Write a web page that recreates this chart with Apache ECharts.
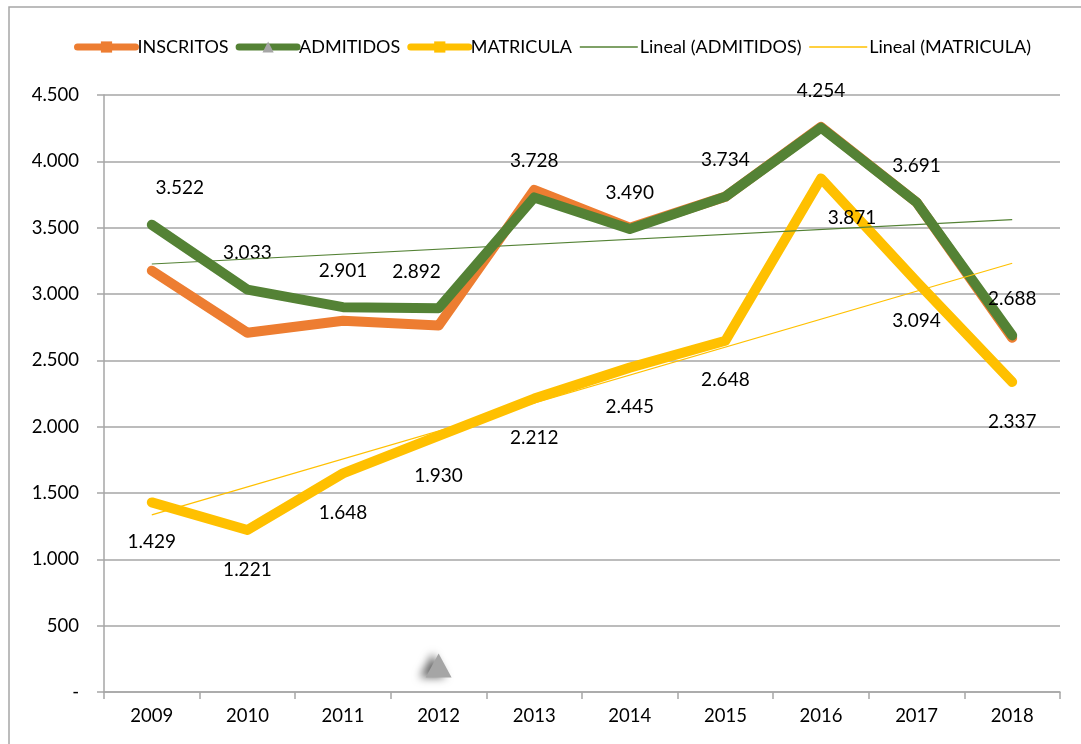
<!DOCTYPE html>
<html>
<head>
<meta charset="utf-8">
<script src="https://cdn.jsdelivr.net/npm/echarts@6/dist/echarts.min.js"></script>
<style>
  html, body { margin: 0; padding: 0; background: #fff; }
  #chart { width: 1081px; height: 744px; }
</style>
</head>
<body>
<div id="chart"></div>
<script>
var years = ['2009', '2010', '2011', '2012', '2013', '2014', '2015', '2016', '2017', '2018'];
var inscritos = [3176, 2708, 2799, 2762, 3785, 3500, 3734, 4260, 3691, 2670];
var admitidos = [3522, 3033, 2901, 2892, 3728, 3490, 3734, 4254, 3691, 2688];
var matricula = [1429, 1221, 1648, 1930, 2212, 2445, 2648, 3871, 3094, 2337];
// linear trend, read at first and last year
var trendAdmitidos = [3226, null, null, null, null, null, null, null, null, 3561];
var trendMatricula = [1335, null, null, null, null, null, null, null, null, 3232];

var fontFam = 'Lato, "Open Sans", sans-serif';

function fmt(v) {
    if (v === 0) return '-';
    return String(v).replace(/\B(?=(\d{3})+(?!\d))/g, '.');
}

// some labels sit off the point in the reference
var admLabelOffset = { 0: [28, 0], 3: [-22, 0] };
var matLabelOffset = { 7: [31, 0] };

function withOffsets(values, offsets) {
    return values.map(function (v, i) {
        if (offsets[i]) return { value: v, label: { offset: offsets[i] } };
        return v;
    });
}

var chart = echarts.init(document.getElementById('chart'));
var option = {
    animation: false,
    textStyle: { fontFamily: fontFam },
    graphic: [{
        type: 'rect',
        shape: { x: 9, y: 7, width: 1200, height: 900 },
        style: { fill: 'none', stroke: '#a6a6a6', lineWidth: 1.5 },
        silent: true
    }],
    legend: {
        left: 69,
        top: 33,
        itemWidth: 58,
        itemHeight: 14,
        itemGap: 7,
        textStyle: { fontSize: 18, color: '#000', fontFamily: fontFam, padding: [0, 0, 0, -3] },
        data: [
            { name: 'INSCRITOS', itemStyle: { color: '#ED7D31' }, lineStyle: { width: 7, cap: 'round' } },
            { name: 'ADMITIDOS', itemStyle: { color: '#A5A5A5' }, lineStyle: { width: 7, cap: 'round' } },
            { name: 'MATRICULA', itemStyle: { color: '#FFC000' }, lineStyle: { width: 7, cap: 'round' } },
            { name: 'Lineal (ADMITIDOS)', itemStyle: { opacity: 0 }, lineStyle: { width: 1.5 } },
            { name: 'Lineal (MATRICULA)', itemStyle: { opacity: 0 }, lineStyle: { width: 1.5 } }
        ]
    },
    grid: { left: 104, right: 21, top: 95, bottom: 52 },
    xAxis: {
        type: 'category',
        data: years,
        boundaryGap: true,
        axisLine: { lineStyle: { color: '#a6a6a6', width: 1.5 } },
        axisTick: { show: true, length: 7, lineStyle: { color: '#a6a6a6', width: 1.5 } },
        axisLabel: { color: '#000', fontSize: 18.5, margin: 15, fontFamily: fontFam }
    },
    yAxis: {
        type: 'value',
        min: 0,
        max: 4500,
        interval: 500,
        axisLine: { show: true, lineStyle: { color: '#a6a6a6', width: 1.5 } },
        axisTick: { show: true, length: 7, lineStyle: { color: '#a6a6a6', width: 1.5 } },
        axisLabel: { color: '#000', fontSize: 18.5, margin: 25, fontFamily: fontFam, formatter: fmt },
        splitLine: { lineStyle: { color: '#a6a6a6', width: 1.5 } }
    },
    series: [
        {
            name: 'INSCRITOS',
            type: 'line',
            data: inscritos,
            symbol: 'rect',
            symbolSize: 0,
            lineStyle: { color: '#ED7D31', width: 10, cap: 'round', join: 'round' },
            itemStyle: { color: '#ED7D31' },
            z: 2
        },
        {
            name: 'ADMITIDOS',
            type: 'line',
            data: withOffsets(admitidos, admLabelOffset),
            symbol: 'triangle',
            symbolSize: 0,
            lineStyle: { color: '#548235', width: 10, cap: 'round', join: 'round' },
            itemStyle: { color: '#548235' },
            label: {
                show: true,
                position: 'top',
                distance: 27,
                color: '#000',
                fontSize: 19,
                fontFamily: fontFam,
                formatter: function (p) { return fmt(p.value); }
            },
            markPoint: {
                symbol: 'triangle',
                symbolSize: [26, 24],
                silent: true,
                label: { show: false },
                itemStyle: { color: '#A5A5A5', shadowColor: 'rgba(0,0,0,0.6)', shadowBlur: 8, shadowOffsetX: -6 },
                data: [{ coord: ['2012', 200] }]
            },
            z: 3
        },
        {
            name: 'MATRICULA',
            type: 'line',
            data: withOffsets(matricula, matLabelOffset),
            symbol: 'rect',
            symbolSize: 0,
            lineStyle: { color: '#FFC000', width: 10, cap: 'round', join: 'round' },
            itemStyle: { color: '#FFC000' },
            label: {
                show: true,
                position: 'bottom',
                distance: 30,
                color: '#000',
                fontSize: 19,
                fontFamily: fontFam,
                formatter: function (p) { return fmt(p.value); }
            },
            z: 4
        },
        {
            name: 'Lineal (ADMITIDOS)',
            type: 'line',
            data: trendAdmitidos,
            connectNulls: true,
            symbol: 'none',
            lineStyle: { color: '#548235', width: 1.2 },
            itemStyle: { color: '#548235', opacity: 0 },
            z: 5
        },
        {
            name: 'Lineal (MATRICULA)',
            type: 'line',
            data: trendMatricula,
            connectNulls: true,
            symbol: 'none',
            lineStyle: { color: '#FFC000', width: 1.2 },
            itemStyle: { color: '#FFC000', opacity: 0 },
            z: 5
        }
    ]
};
chart.setOption(option);
</script>
</body>
</html>
